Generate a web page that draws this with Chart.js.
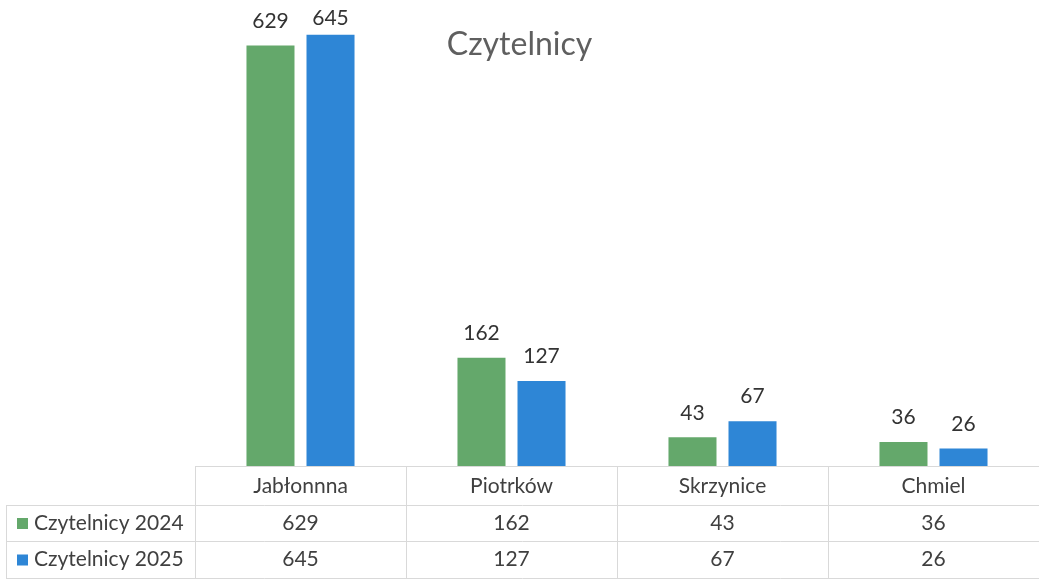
<!DOCTYPE html>
<html>
<head>
<meta charset="utf-8">
<script src="https://cdn.jsdelivr.net/npm/chart.js@4"></script>
<style>
    body { margin: 0; background: #fff; }
    #wrap { width: 1039px; height: 581px; }
</style>
</head>
<body>
<div id="wrap"><canvas id="chart" width="1039" height="581"></canvas></div>
<script>
const categories = ['Jabłonnna', 'Piotrków', 'Skrzynice', 'Chmiel'];
const seriesNames = ['Czytelnicy 2024', 'Czytelnicy 2025'];
const values2024 = [629, 162, 43, 36];
const values2025 = [645, 127, 67, 26];
const colors = ['#64a86b', '#2e86d6'];

const FONT = 'Lato, "Open Sans", sans-serif';

// Title, value labels and the data table under the plot
const extras = {
    id: 'extras',
    afterDatasetsDraw(chart) {
        const { ctx, chartArea, scales } = chart;
        const x = scales.x;
        const lineColor = '#d9d9d9';

        // value labels above bars (kept inside the canvas like Excel does)
        ctx.save();
        ctx.font = '21px ' + FONT;
        ctx.fillStyle = '#333';
        ctx.textAlign = 'center';
        ctx.textBaseline = 'bottom';
        chart.data.datasets.forEach((ds, di) => {
            chart.getDatasetMeta(di).data.forEach((bar, i) => {
                ctx.fillText(String(ds.data[i]), bar.x, Math.max(bar.y - 14, 29));
            });
        });

        // title
        ctx.font = '32px ' + FONT;
        ctx.fillStyle = '#5f5f5f';
        ctx.textBaseline = 'middle';
        ctx.fillText('Czytelnicy', chart.width / 2, 45);

        // table
        const top = chartArea.bottom;
        const rowH = [39, 36, 37];
        const y1 = top + rowH[0], y2 = y1 + rowH[1], y3 = y2 + rowH[2];
        const left = 6, right = chart.width;
        const step = (chartArea.right - chartArea.left) / categories.length;

        ctx.strokeStyle = lineColor;
        ctx.lineWidth = 1;
        ctx.beginPath();
        ctx.moveTo(chartArea.left, top + 0.5); ctx.lineTo(right, top + 0.5);
        [y1, y2, y3].forEach(y => { ctx.moveTo(left, y + 0.5); ctx.lineTo(right, y + 0.5); });
        ctx.moveTo(left + 0.5, y1); ctx.lineTo(left + 0.5, y3);
        for (let i = 0; i < categories.length; i++) {
            const xx = Math.round(chartArea.left + i * step) + 0.5;
            ctx.moveTo(xx, top); ctx.lineTo(xx, y3);
        }
        ctx.stroke();

        ctx.font = '21px ' + FONT;
        ctx.fillStyle = '#404040';
        ctx.textAlign = 'center';
        categories.forEach((c, i) => {
            const cx = x.getPixelForValue(i);
            ctx.fillText(c, cx, top + rowH[0] / 2 + 1);
            ctx.fillText(String(values2024[i]), cx, y1 + rowH[1] / 2);
            ctx.fillText(String(values2025[i]), cx, y2 + rowH[2] / 2);
        });

        ctx.textAlign = 'left';
        [[y1, rowH[1]], [y2, rowH[2]]].forEach(([y, h], i) => {
            ctx.fillStyle = colors[i];
            ctx.fillRect(17, y + h / 2 - 5, 11, 11);
            ctx.fillStyle = '#404040';
            ctx.fillText(seriesNames[i], 34, y + h / 2);
        });
        ctx.restore();
    }
};

new Chart(document.getElementById('chart'), {
    type: 'bar',
    data: {
        labels: categories,
        datasets: [
            { label: seriesNames[0], data: values2024, backgroundColor: colors[0] },
            { label: seriesNames[1], data: values2025, backgroundColor: colors[1] }
        ]
    },
    options: {
        responsive: false,
        animation: false,
        layout: { padding: { left: 195, right: 0, top: 0, bottom: 115 } },
        datasets: { bar: { categoryPercentage: 0.569, barPercentage: 0.8 } },
        scales: {
            x: { display: false },
            y: { display: false, min: 0, max: 697 }
        },
        plugins: {
            legend: { display: false },
            title: { display: false },
            tooltip: { enabled: false }
        }
    },
    plugins: [extras]
});
</script>
</body>
</html>
